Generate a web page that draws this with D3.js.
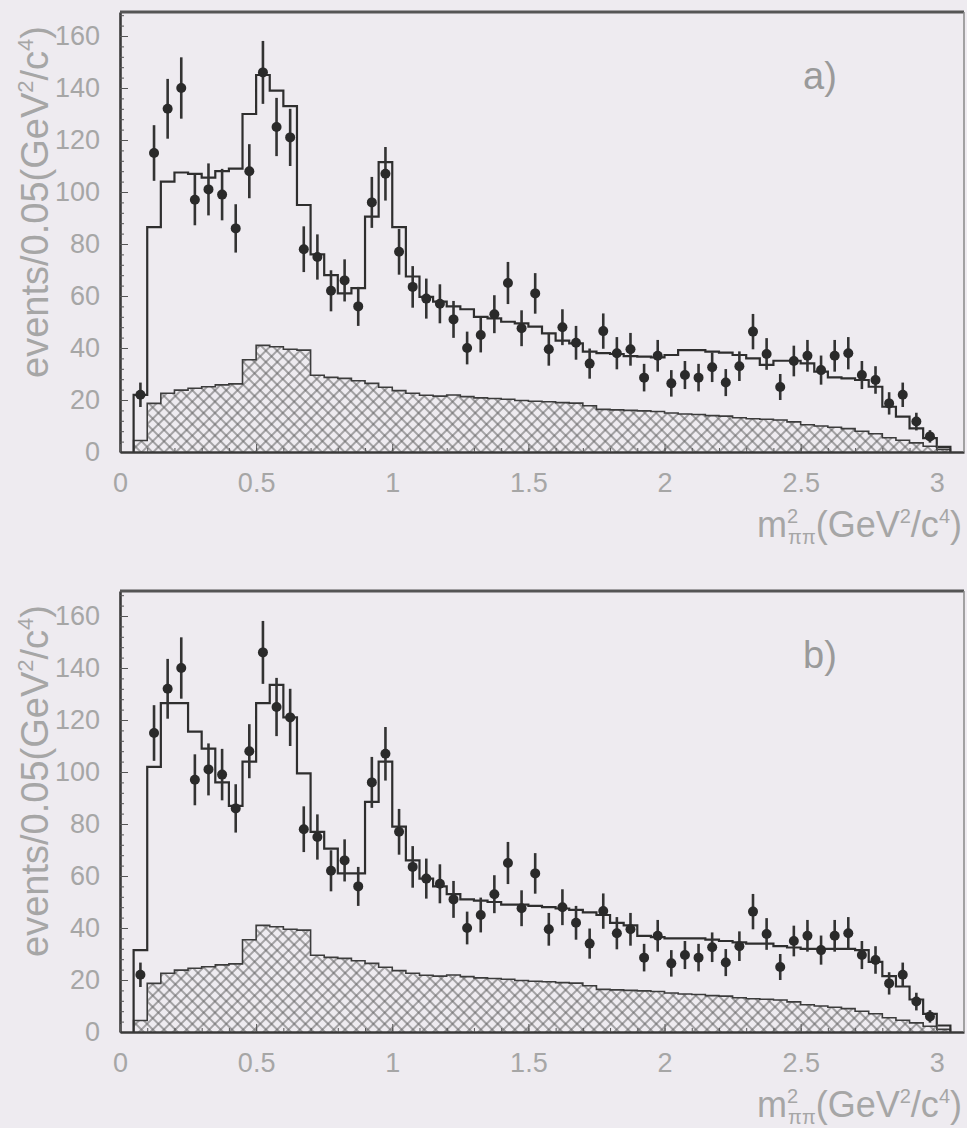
<!DOCTYPE html>
<html>
<meta charset="utf-8">
<script src="https://cdn.jsdelivr.net/npm/d3@7/dist/d3.min.js"></script>
<style>
body { margin: 0; background: #eeebf0; }
svg text { font-family: "Liberation Sans", Arial, sans-serif; }
</style>
<body>
<div id="plot_area"></div>
<script>

// events per 0.05 GeV^2 bin, bin centres 0.075 ... 2.975 (same data in both panels)
var counts = [22,115,132,140,97,101,99,86,108,146,125,121,78,75,62,66,56,96,107,77,
              63.5,59,57,51,40,45,53,65,47.6,61,39.5,48,42,34,46.5,38,39.5,28.6,37,26.4,
              29.6,28.6,32.6,26.7,33,46.3,37.7,25,35,37,31.5,37,38,29.6,27.7,18.7,22,11.7,6];
var errs = [4.7,10.7,11.5,11.8,9.8,10,9.9,9.3,10.4,12.1,11.2,11,8.8,8.7,7.9,8.1,7.5,9.8,10.3,8.8,
            8,7.7,7.5,7.1,6.3,6.7,7.3,8.1,6.9,7.8,6.3,6.9,6.5,5.8,6.8,6.2,6.3,5.3,6.1,5.1,
            5.4,5.3,5.7,5.2,5.7,6.8,6.1,5,5.9,6.1,5.6,6.1,6.2,5.4,5.3,4.3,4.7,3.4,2.4];

// fit histograms, bins 0.05-0.10 ... 3.00-3.05
var fitA = [22,86.5,104,107.5,107,105.5,108,109,130,145,139,133,95,76,68,61,63,90.5,111.5,86.5,
            67.5,59.7,57.8,56,54.9,52,51.4,50.1,49.5,48.2,45.6,42.8,41.8,38.6,38,37.7,36.9,36.7,36.4,37.3,
            39.2,39.2,38.6,38.2,37.3,36,33.5,35.1,35.1,34.1,30.9,28.7,28.3,27.7,25.1,17.4,13.6,9.1,5.3,2];
var fitB = [31.5,102,126.5,126.5,115.5,109,96,87,104,126.5,133.5,121,99.5,77,70.5,61,61,88.5,104,79,
            66,59,56,53,51,50.5,50,49,49,48.5,48,47.5,47,46,45,42,41,37,36.5,36,
            36,36,35.5,35,34.5,34,34,33,32.5,32,32,32,32,31.5,27,21.5,17.5,12.5,7,2.5];
// hatched background
var bkg = [4.4,18.7,22.6,23.8,24.5,25.1,25.8,26.2,35.5,41,40.5,39.5,39.2,29.5,28.7,28.3,27.4,26.4,24.9,23.6,
           22.6,21.8,21.5,21.9,21.3,20.8,20.6,20.3,19.8,19.5,19.3,19,18.8,17.8,16.4,16.2,16,15.8,15.6,15,
           14.6,14.4,14,13.8,13.2,12.8,12.6,12.3,11.6,10.5,10,9.5,9,8,7,5.5,4.5,3.5,2.2,1];

var xTicks = [0, 0.5, 1, 1.5, 2, 2.5, 3];
var yTicks = [0, 20, 40, 60, 80, 100, 120, 140, 160];

var binLo = 0.05, binW = 0.05;

var svg = d3.select("#plot_area")
  .append("svg")
    .attr("width", 967)
    .attr("height", 1128);

var pat = svg.append("defs").append("pattern")
    .attr("id", "hatch")
    .attr("patternUnits", "userSpaceOnUse")
    .attr("width", 8)
    .attr("height", 8)
    .attr("patternTransform", "rotate(45)");
pat.append("line").attr("x1", 4).attr("y1", 0).attr("x2", 4).attr("y2", 8)
    .attr("stroke", "#666").attr("stroke-width", 1.1);
pat.append("line").attr("x1", 0).attr("y1", 4).attr("x2", 8).attr("y2", 4)
    .attr("stroke", "#666").attr("stroke-width", 1.1);

function stepPoints(vals) {
  var pts = [[binLo, 0]];
  vals.forEach(function(v, i) { pts.push([binLo + i * binW, v]); });
  pts.push([binLo + vals.length * binW, 0]);
  return pts;
}

function drawPanel(top, bottom, fit, label) {

  var g = svg.append("g");

  var x = d3.scaleLinear()
    .domain([0, 3.1])
    .range([120, 964]);
  var y = d3.scaleLinear()
    .domain([0, (bottom - top) / 2.6])
    .range([bottom, top]);

  // background (hatched)
  var bpts = bkg.map(function(v, i) { return [binLo + i * binW, v]; });
  bpts.push([binLo + bkg.length * binW, 0]);
  var area = d3.area()
    .curve(d3.curveStepAfter)
    .x(function(d) { return x(d[0]); })
    .y0(y(0))
    .y1(function(d) { return y(d[1]); });
  g.append("path")
    .attr("d", area(bpts))
    .attr("fill", "url(#hatch)");

  var line = d3.line()
    .curve(d3.curveStepAfter)
    .x(function(d) { return x(d[0]); })
    .y(function(d) { return y(d[1]); });

  g.append("path")
    .attr("d", line(stepPoints(bkg)))
    .attr("fill", "none")
    .attr("stroke", "#3c3c3c")
    .attr("stroke-width", 1.6);

  g.append("path")
    .attr("d", line(stepPoints(fit)))
    .attr("fill", "none")
    .attr("stroke", "#2e2e2e")
    .attr("stroke-width", 2.2);

  // data points with errors
  var pts = g.append("g")
    .selectAll("g")
    .data(counts)
    .enter()
    .append("g");
  pts.append("line")
    .attr("x1", function(d, i) { return x(binLo + (i + 0.5) * binW); })
    .attr("x2", function(d, i) { return x(binLo + (i + 0.5) * binW); })
    .attr("y1", function(d, i) { return y(d - errs[i]); })
    .attr("y2", function(d, i) { return y(d + errs[i]); })
    .attr("stroke", "#333")
    .attr("stroke-width", 2.6);
  pts.append("circle")
    .attr("cx", function(d, i) { return x(binLo + (i + 0.5) * binW); })
    .attr("cy", function(d) { return y(d); })
    .attr("r", 5)
    .attr("fill", "#2a2a2a");

  // axes
  g.append("g")
    .attr("transform", "translate(120,0)")
    .call(d3.axisLeft(y).tickValues(yTicks).tickSize(-8).tickSizeOuter(0).tickPadding(20));
  g.append("g")
    .attr("transform", "translate(120,0)")
    .call(d3.axisLeft(y).tickValues(d3.range(0, y.domain()[1], 4)).tickSize(-4).tickSizeOuter(0).tickFormat(""))
    .select(".domain").remove();
  g.append("g")
    .attr("transform", "translate(0," + bottom + ")")
    .call(d3.axisBottom(x).tickValues(xTicks).tickSize(-8).tickSizeOuter(0).tickPadding(21)
      .tickFormat(d3.format("~g")));
  g.append("g")
    .attr("transform", "translate(0," + bottom + ")")
    .call(d3.axisBottom(x).tickValues(d3.range(0, 3.05, 0.1)).tickSize(-4).tickSizeOuter(0).tickFormat(""))
    .select(".domain").remove();

  g.selectAll(".tick line").attr("stroke", "#555");
  g.selectAll(".domain").attr("stroke", "#3a3a3a").attr("stroke-width", 2.6);
  g.selectAll(".tick text")
    .attr("fill", "#a6a6a6")
    .style("font-size", "27px");

  // frame
  g.append("line")
    .attr("x1", 120).attr("x2", 964).attr("y1", top).attr("y2", top)
    .attr("stroke", "#555").attr("stroke-width", 3);
  g.append("line")
    .attr("x1", 964).attr("x2", 964).attr("y1", top).attr("y2", bottom)
    .attr("stroke", "#888").attr("stroke-width", 1.5);

  g.append("text")
    .attr("x", 803)
    .attr("y", top + 77)
    .attr("fill", "#9a9a9a")
    .style("font-size", "38px")
    .text(label);

  // axis titles
  var xt = g.append("text")
    .attr("x", 962)
    .attr("y", bottom + 85)
    .attr("text-anchor", "end")
    .attr("fill", "#a6a6a6")
    .style("font-size", "36px");
  xt.append("tspan").text("m");
  xt.append("tspan").attr("dy", -14).style("font-size", "20px").text("2");
  xt.append("tspan").attr("dx", -10).attr("dy", 21).style("font-size", "20px").text("ππ");
  xt.append("tspan").attr("dy", -7).text("(GeV");
  xt.append("tspan").attr("dy", -14).style("font-size", "20px").text("2");
  xt.append("tspan").attr("dy", 14).text("/c");
  xt.append("tspan").attr("dy", -14).style("font-size", "20px").text("4");
  xt.append("tspan").attr("dy", 14).text(")");

  var yt = g.append("text")
    .attr("transform", "translate(48," + (top + 190) + ") rotate(-90)")
    .attr("text-anchor", "middle")
    .attr("fill", "#a6a6a6")
    .style("font-size", "38px");
  yt.append("tspan").text("events/0.05(GeV");
  yt.append("tspan").attr("dy", -15).style("font-size", "22px").text("2");
  yt.append("tspan").attr("dy", 15).text("/c");
  yt.append("tspan").attr("dy", -15).style("font-size", "22px").text("4");
  yt.append("tspan").attr("dy", 15).text(")");
}

drawPanel(12, 452, fitA, "a)");
drawPanel(591, 1032, fitB, "b)");

</script>
</body>
</html>
